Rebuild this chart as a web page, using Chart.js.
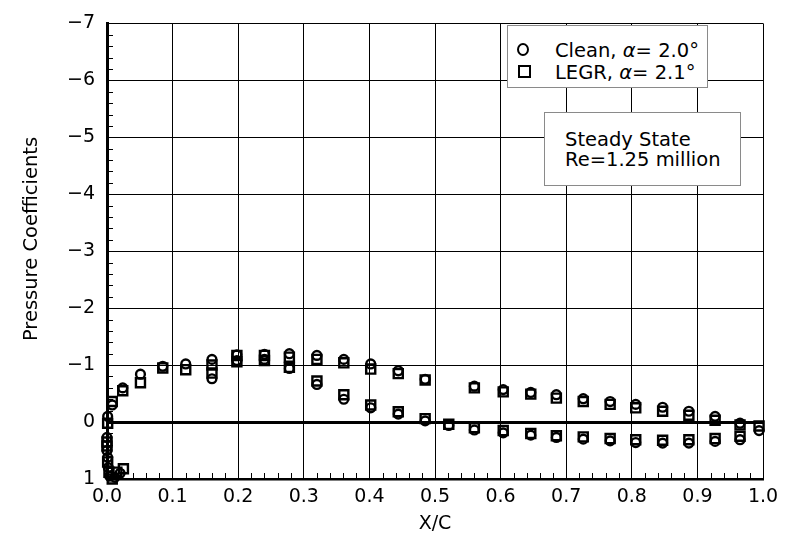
<!DOCTYPE html>
<html><head><meta charset="utf-8">
<script src="https://cdn.jsdelivr.net/npm/chart.js@4.4.1/dist/chart.umd.min.js"></script>
<style>
html,body{margin:0;padding:0;background:#fff;}
#wrap{position:relative;width:790px;height:544px;overflow:hidden;}
canvas{position:absolute;left:0;top:0;}
.box{position:absolute;box-sizing:border-box;background:#fff;border:1px solid #8a8a8a;font-family:"DejaVu Sans",sans-serif;font-size:19.5px;color:#000;}
.row{position:absolute;white-space:nowrap;line-height:21px;}
.sym{position:absolute;box-sizing:border-box;border:2px solid #000;}
</style></head>
<body><div id="wrap">
<canvas id="c" width="790" height="544"></canvas>
<div id="legend" class="box" style="left:507px;top:25px;width:201px;height:63px;">
  <div class="sym" style="left:9px;top:17px;width:12px;height:13px;border-radius:50%;"></div>
  <div class="sym" style="left:10px;top:39px;width:13px;height:13px;"></div>
  <div class="row" style="left:47px;top:14px;">Clean, <i>α</i>= 2.0°</div>
  <div class="row" style="left:47px;top:36px;">LEGR, <i>α</i>= 2.1°</div>
</div>
<div id="note" class="box" style="left:544px;top:112px;width:197px;height:74px;">
  <div class="row" style="left:20px;top:16px;">Steady State</div>
  <div class="row" style="left:20px;top:36px;">Re=1.25 million</div>
</div>
</div>
<script>
// ---- data (x/c, Cp) ----
const cleanX  = [0.001,0.000,0.000,0.001,0.002,0.004,0.012,0.020,0.008,
  0.024,0.051,0.085,0.120,0.160,0.160,0.198,0.198,0.240,0.240,0.278,0.278,
  0.320,0.320,0.361,0.361,0.402,0.402,0.444,0.444,0.485,0.485,0.521,
  0.560,0.560,0.604,0.604,0.646,0.646,0.685,0.685,0.726,0.726,0.767,0.767,
  0.806,0.806,0.847,0.847,0.887,0.887,0.927,0.927,0.965,0.965,0.994];
const cleanCp = [-0.10,0.27,0.50,0.62,0.80,0.95,0.97,0.90,-0.30,
  -0.60,-0.84,-0.98,-1.02,-1.10,-0.76,-1.18,-1.08,-1.19,-1.10,-1.20,-0.94,
  -1.17,-0.66,-1.10,-0.40,-1.02,-0.25,-0.90,-0.14,-0.75,-0.02,0.06,
  -0.63,0.14,-0.57,0.19,-0.52,0.23,-0.48,0.27,-0.41,0.30,-0.36,0.33,
  -0.31,0.36,-0.26,0.37,-0.19,0.37,-0.10,0.34,0.02,0.31,0.15];
const legrX   = [0.001,0.000,0.000,0.001,0.003,0.008,0.015,0.025,0.008,
  0.024,0.051,0.085,0.120,0.160,0.160,0.198,0.198,0.240,0.240,0.278,0.278,
  0.320,0.320,0.361,0.361,0.402,0.402,0.444,0.444,0.485,0.485,0.521,
  0.560,0.560,0.604,0.604,0.646,0.646,0.685,0.685,0.726,0.726,0.767,0.767,
  0.806,0.806,0.847,0.847,0.887,0.887,0.927,0.927,0.965,0.965,0.994];
const legrCp  = [0.02,0.35,0.42,0.70,0.88,1.00,0.88,0.82,-0.36,
  -0.55,-0.69,-0.95,-0.92,-1.00,-0.86,-1.17,-1.06,-1.17,-1.08,-1.14,-0.96,
  -1.10,-0.72,-1.04,-0.48,-0.93,-0.30,-0.85,-0.18,-0.74,-0.06,0.04,
  -0.60,0.10,-0.53,0.15,-0.49,0.20,-0.42,0.24,-0.36,0.26,-0.31,0.29,
  -0.25,0.31,-0.19,0.32,-0.12,0.31,-0.03,0.29,0.05,0.25,0.07];
const xTickValues = [0,0.1,0.2,0.3,0.4,0.5,0.6,0.7,0.8,0.9,1.0];
const xTickLabels = ['0.0','0.1','0.2','0.3','0.4','0.5','0.6','0.7','0.8','0.9','1.0'];
const yTickValues = [-7,-6,-5,-4,-3,-2,-1,0,1];
const yTickLabels = ['\u22127','\u22126','\u22125','\u22124','\u22123','\u22122','\u22121','0','1'];

const pts = (xs, ys) => xs.map((x, i) => ({x: x, y: ys[i]}));
const FONT = '"DejaVu Sans", sans-serif';

const decor = {
  id: 'decor',
  beforeDatasetsDraw(chart) {
    const {ctx, chartArea: a, scales: {x, y}} = chart;
    ctx.save();
    ctx.strokeStyle = '#000';
    ctx.lineWidth = 1;
    ctx.beginPath();
    for (let k = 0; k <= 50; k++) {
      if (k % 5 === 0) continue;
      const px = Math.round(x.getPixelForValue(k * 0.02)) + 0.5;
      ctx.moveTo(px, a.bottom); ctx.lineTo(px, a.bottom - 6);
    }
    for (let k = 0; k <= 40; k++) {
      if (k % 5 === 0) continue;
      const py = Math.round(y.getPixelForValue(-7 + k * 0.2)) + 0.5;
      ctx.moveTo(a.left, py); ctx.lineTo(a.left + 6, py);
    }
    ctx.stroke();
    ctx.restore();
  },
  afterDraw(chart) {
    const {ctx} = chart;
    ctx.save();
    ctx.fillStyle = '#000';
    ctx.font = '19.5px ' + FONT;
    ctx.textAlign = 'center';
    ctx.textBaseline = 'middle';
    ctx.translate(32, 239);
    ctx.rotate(-Math.PI / 2);
    ctx.fillText('Pressure Coefficients', 0, 0);
    ctx.restore();
  }
};

new Chart(document.getElementById('c'), {
  type: 'scatter',
  data: {
    datasets: [
      {label: 'Clean', data: pts(cleanX, cleanCp), pointStyle: 'circle', pointRadius: 4.4,
       pointBorderWidth: 2.4, borderColor: '#000', backgroundColor: 'rgba(0,0,0,0)', clip: false},
      {label: 'LEGR', data: pts(legrX, legrCp), pointStyle: 'rect', pointRadius: 6.4,
       pointBorderWidth: 2.4, borderColor: '#000', backgroundColor: 'rgba(0,0,0,0)', clip: false}
    ]
  },
  options: {
    responsive: false, animation: false, devicePixelRatio: 1,
    layout: {padding: {top: 15, right: 27, left: 0, bottom: 0}},
    plugins: {legend: {display: false}, tooltip: {enabled: false}},
    scales: {
      x: {
        type: 'linear', min: 0, max: 1,
        afterFit(s) { s.height = 65; },
        afterBuildTicks(s) { s.ticks = xTickValues.map(v => ({value: v})); },
        ticks: {color: '#000', font: {family: FONT, size: 19}, padding: 7, maxRotation: 0,
          callback: (v) => xTickLabels[xTickValues.findIndex(t => Math.abs(t - v) < 1e-9)]},
        grid: {color: '#000', lineWidth: 1, drawTicks: false},
        border: {display: true, color: '#000', width: 2.5},
        title: {display: true, text: 'X/C', color: '#000', font: {family: FONT, size: 19}, padding: {top: 0, bottom: 9}}
      },
      y: {
        type: 'linear', min: -7, max: 1, reverse: true,
        afterFit(s) { s.width = 107; },
        afterBuildTicks(s) { s.ticks = yTickValues.map(v => ({value: v})); },
        ticks: {color: '#000', font: {family: FONT, size: 19}, padding: 12,
          callback: (v) => yTickLabels[yTickValues.indexOf(v)]},
        grid: {color: '#000', lineWidth: (c) => (c.tick && c.tick.value === 0 ? 3 : 1), drawTicks: false},
        border: {display: true, color: '#000', width: 3}
      }
    }
  },
  plugins: [decor]
});
</script>
</body></html>
